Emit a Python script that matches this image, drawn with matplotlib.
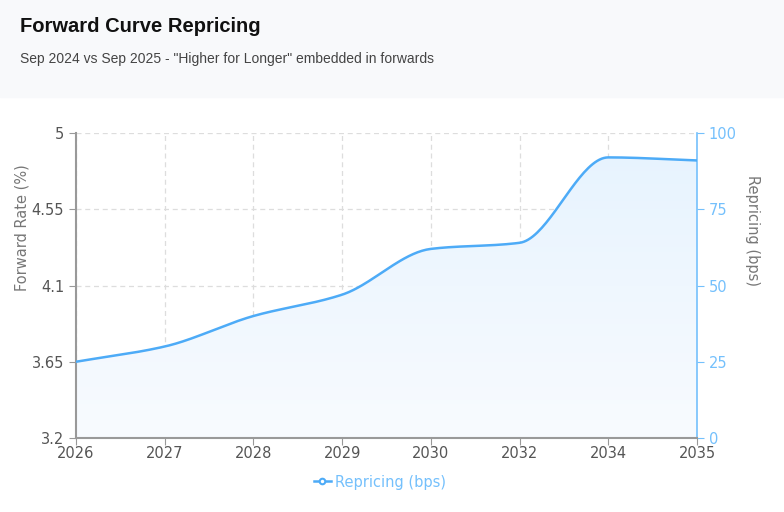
import matplotlib.pyplot as plt
import numpy as np
from matplotlib.patches import Rectangle

years = ["2026", "2027", "2028", "2029", "2030", "2032", "2034", "2035"]
repricing_bps = [25, 30, 40, 47, 62, 64, 92, 91]
rate_ticks = [3.2, 3.65, 4.1, 4.55, 5]
rate_labels = ["3.2", "3.65", "4.1", "4.55", "5"]
bps_ticks = [0, 25, 50, 75, 100]

LINE = "#4dabf7"
TICK_BLUE = "#74c0fc"


def monotone(x, y, n=40):
    # Fritsch-Carlson monotone cubic, only for drawing a smooth line
    x = np.asarray(x, float)
    y = np.asarray(y, float)
    h = np.diff(x)
    d = np.diff(y) / h
    m = np.zeros_like(y)
    m[0], m[-1] = d[0], d[-1]
    for i in range(1, len(y) - 1):
        if d[i - 1] * d[i] <= 0:
            m[i] = 0
        else:
            w1 = 2 * h[i] + h[i - 1]
            w2 = h[i] + 2 * h[i - 1]
            m[i] = (w1 + w2) / (w1 / d[i - 1] + w2 / d[i])
    xs, ys = [], []
    for i in range(len(x) - 1):
        t = np.linspace(0, 1, n, endpoint=False)
        h00 = 2 * t**3 - 3 * t**2 + 1
        h10 = t**3 - 2 * t**2 + t
        h01 = -2 * t**3 + 3 * t**2
        h11 = t**3 - t**2
        xs.append(x[i] + t * h[i])
        ys.append(h00 * y[i] + h10 * h[i] * m[i] + h01 * y[i + 1] + h11 * h[i] * m[i + 1])
    xs.append([x[-1]])
    ys.append([y[-1]])
    return np.concatenate(xs), np.concatenate(ys)


fig = plt.figure(figsize=(7.84, 5.12), dpi=100)
fig.patches.append(Rectangle((0, 1 - 97 / 512), 1, 97 / 512, transform=fig.transFigure,
                             color="#f8f9fb", zorder=0))
fig.text(20 / 784, 1 - 27 / 512, "Forward Curve Repricing", fontsize=14.5, fontweight="bold",
         family="Liberation Sans", color="#111111", va="center")
fig.text(20 / 784, 1 - 59 / 512, 'Sep 2024 vs Sep 2025 - "Higher for Longer" embedded in forwards',
         fontsize=10, family="Liberation Sans", color="#444444", va="center")

ax = fig.add_axes([76 / 784, 74 / 512, 621 / 784, 305 / 512])
ax2 = ax.twinx()

x = np.arange(len(years))
ax.set_xlim(0, len(years) - 1)
ax.set_ylim(3.2, 5)
ax.set_yticks(rate_ticks)
ax.set_yticklabels(rate_labels)
ax.set_xticks(x)
ax.set_xticklabels(years)
ax.grid(True, color="#dddddd", linestyle=(0, (4, 3)), linewidth=0.9)
ax.tick_params(axis="both", colors="#999999", labelcolor="#555555", labelsize=10.5, length=5)
ax.tick_params(axis="x", pad=1)
ax.set_ylabel("Forward Rate (%)", color="#777777", fontsize=10.5, va="center")
ax.yaxis.set_label_coords(-0.087, 0.69)
for s in ["top", "right", "left", "bottom"]:
    ax.spines[s].set_visible(False)

ax2.set_ylim(0, 100)
ax2.set_yticks(bps_ticks)
ax2.tick_params(axis="y", colors=TICK_BLUE, labelcolor=TICK_BLUE, labelsize=10.5, length=5)
ax2.set_ylabel("Repricing (bps)", color="#777777", fontsize=10.5, rotation=-90, va="center")
ax2.yaxis.set_label_coords(1.0886, 0.68)
ax2.spines["top"].set_visible(False)
# draw left/bottom axis lines on the top axes so the fill does not hide them
for s in ["left", "bottom"]:
    ax2.spines[s].set_color("#999999")
    ax2.spines[s].set_linewidth(1.5)
ax2.spines["right"].set_color(TICK_BLUE)
ax2.spines["right"].set_linewidth(1.2)

xs, ys = monotone(x, repricing_bps)
poly = ax2.fill_between(xs, ys, 0, color="none")
grad = np.linspace(0, 1, 256).reshape(-1, 1)
img = ax2.imshow(grad, extent=[0, len(years) - 1, 0, 100], origin="lower", aspect="auto",
                 cmap=plt.matplotlib.colors.LinearSegmentedColormap.from_list(
                     "g", ["#f8fbff", "#e6f3fe"]), zorder=1)
img.set_clip_path(poly.get_paths()[0], transform=ax2.transData)
ax2.plot(xs, ys, color=LINE, linewidth=1.8, zorder=3, label="Repricing (bps)")

h = plt.Line2D([], [], color=LINE, linewidth=1.8, marker="o", markersize=4,
               markerfacecolor="white", markeredgewidth=1.5)
leg = fig.legend([h], ["Repricing (bps)"], loc="center", bbox_to_anchor=(380 / 784, 1 - 482 / 512),
                 frameon=False, fontsize=10.5, handlelength=1.2, handletextpad=0.3)
for t in leg.get_texts():
    t.set_color(TICK_BLUE)

fig.savefig("out.png", dpi=100)
